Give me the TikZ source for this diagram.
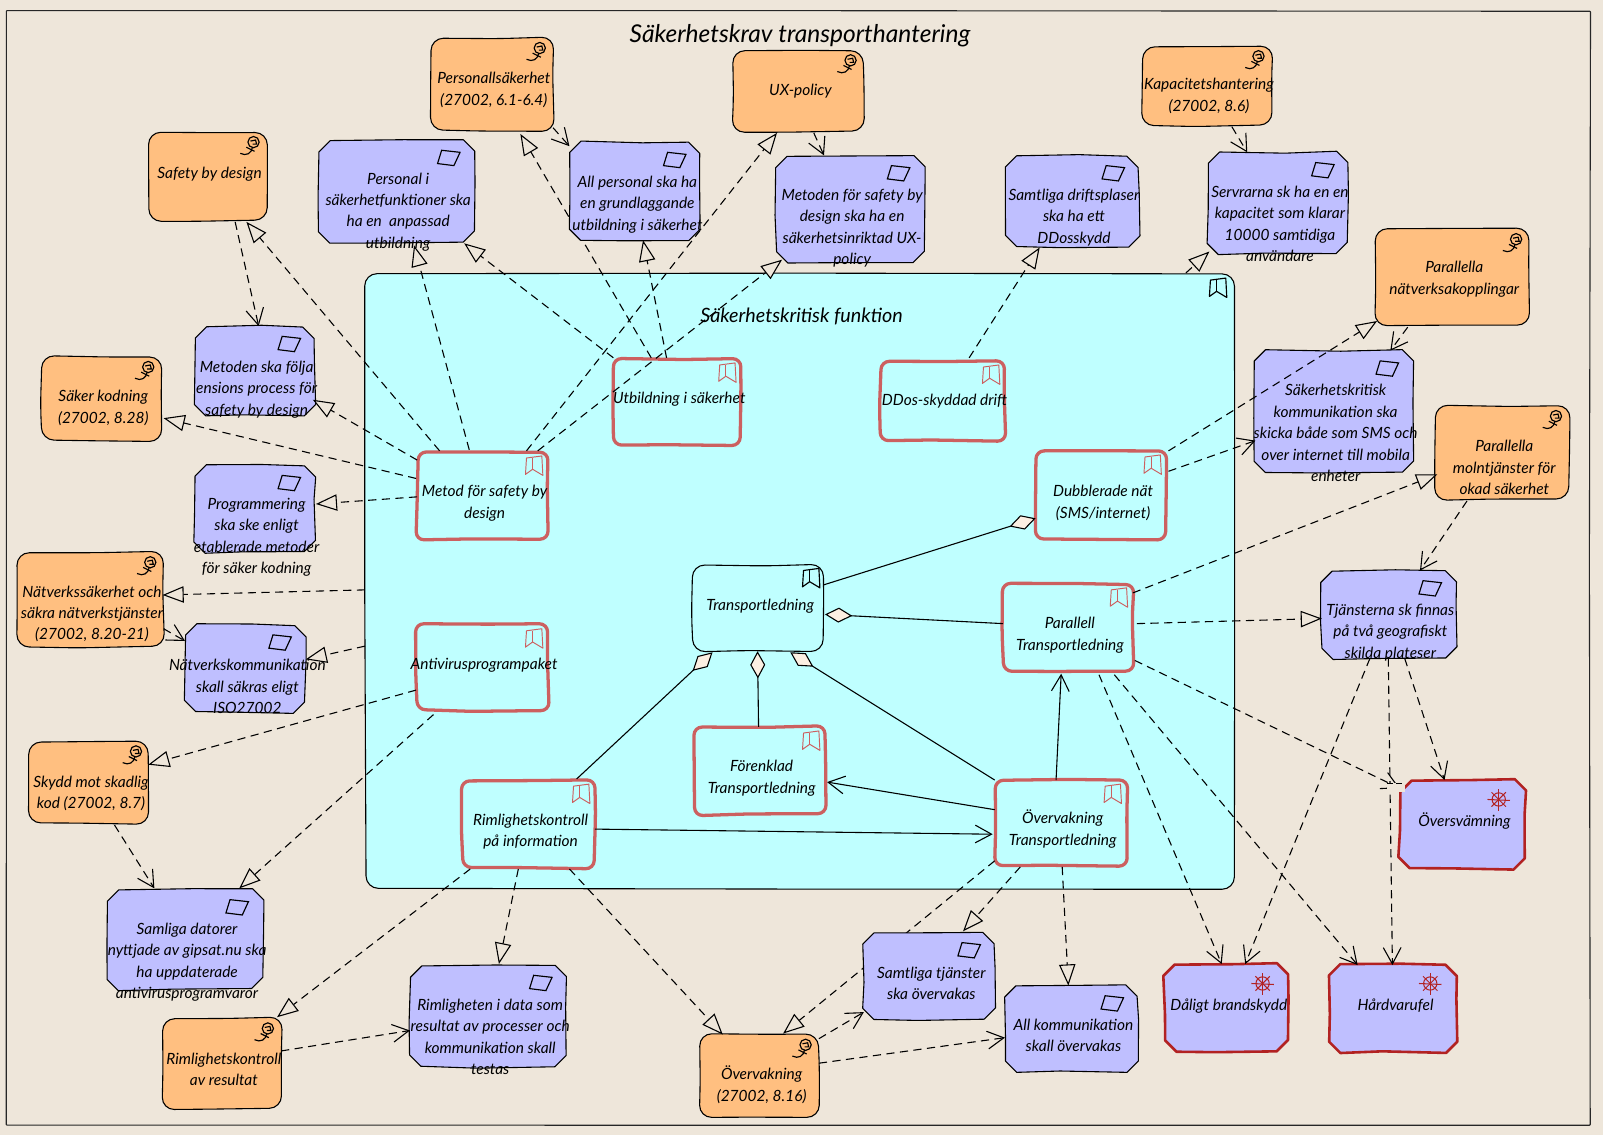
\documentclass[tikz,border=0pt]{standalone}
\usepackage{fontspec}
\setmainfont{Lato}
\usetikzlibrary{arrows.meta}
\definecolor{bgc}{HTML}{EEE6DA}
\definecolor{orangec}{HTML}{FFBF80}
\definecolor{purplec}{HTML}{BFBFFF}
\definecolor{cyanc}{HTML}{BFFFFF}
\definecolor{softred}{HTML}{CC6060}
\definecolor{darkred}{HTML}{B22222}
\definecolor{diamondc}{HTML}{FCEFE2}
\tikzset{
  basebox/.style={inner sep=0pt,outer sep=0pt,text=black,font=\itshape\fontsize{11.35}{15.75}\selectfont},
  framebox/.style={basebox,font=\itshape\fontsize{18}{22}\selectfont},
  groupbox/.style={basebox,font=\itshape\fontsize{14.5}{18}\selectfont},
  frameline/.style={draw=black!85,line width=0.8pt,line join=round},
  groupline/.style={draw=black,fill=cyanc,line width=0.8pt,line join=round},
  orangeline/.style={draw=black,fill=orangec,line width=0.8pt,line join=round},
  reqline/.style={draw=black,fill=purplec,line width=0.8pt,line join=round},
  riskline/.style={draw=darkred,fill=purplec,line width=1.9pt,line join=round},
  funcline/.style={draw=softred,fill=cyanc,line width=2.4pt,line join=round},
  mainline/.style={draw=black,fill=cyanc,line width=0.8pt,line join=round},
  gapbox/.style={inner sep=0pt,outer sep=0pt,fill=bgc,minimum width=12.5pt,minimum height=6.5pt},
  conn/.style={line width=0.8pt,draw=black},
  real/.style={conn,dash pattern=on 6pt off 4pt,-{Triangle[length=15.5pt,width=12pt,fill=bgc,line width=0.8pt]}},
  flow/.style={conn,dash pattern=on 6pt off 4pt,-{Straight Barb[length=12pt,width=13pt,line width=0.8pt]}},
  assoc/.style={conn,-{Straight Barb[length=12pt,width=13pt,line width=0.8pt]}},
  comp/.style={conn,-{Diamond[length=20pt,width=11pt,fill=diamondc,line width=0.8pt]}},
  iconk/.style={line width=0.85pt,draw=black},
  iconr/.style={line width=0.7pt,draw=softred},
  iconw/.style={line width=0.75pt,draw=darkred}
}
\newcommand\JIT{%
  \pgfmathsetmacro\ja{rand*1.2}\pgfmathsetmacro\jb{rand*1.2}%
  \pgfmathsetmacro\jc{rand*1.2}\pgfmathsetmacro\jd{rand*1.2}%
  \pgfmathsetmacro\je{rand*1.2}\pgfmathsetmacro\jf{rand*1.2}%
  \pgfmathsetmacro\jg{rand*1.2}\pgfmathsetmacro\jh{rand*1.2}%
  \pgfmathsetmacro\jm{rand*0.9}\pgfmathsetmacro\jn{rand*0.9}%
  \pgfmathsetmacro\jo{rand*0.9}\pgfmathsetmacro\jp{rand*0.9}%
}
% hand-drawn rounded outline: style, radius, x1 y1 x2 y2
\newcommand\SKR[6]{\JIT
  \draw[#1,rounded corners=#2]
   ({(#3+#5)/2+7},{#4+\jm}) -- ({#5+\ja},{#4+\jb}) -- ({#5+\jn},{(#4+#6)/2-9}) --
   ({#5+\jc},{#6+\jd}) -- ({(#3+#5)/2-11},{#6+\jo}) -- ({#3+\je},{#6+\jf}) --
   ({#3+\jp},{(#4+#6)/2+6}) -- ({#3+\jg},{#4+\jh}) -- cycle;
}
% hand-drawn chamfered outline: style, chamfer, x1 y1 x2 y2
\newcommand\SKC[6]{\JIT
  \draw[#1]
   ({(#3+#5)/2+7},{#4+\jm}) -- ({#5-#2+\ja},{#4+\jb}) -- ({#5+\ja},{#4+#2+\jb}) -- ({#5+\jn},{(#4+#6)/2-9}) --
   ({#5+\jc},{#6-#2+\jd}) -- ({#5-#2+\jc},{#6+\jd}) -- ({(#3+#5)/2-11},{#6+\jo}) -- ({#3+#2+\je},{#6+\jf}) --
   ({#3+\je},{#6-#2+\jf}) -- ({#3+\jp},{(#4+#6)/2+6}) -- ({#3+\jg},{#4+#2+\jh}) -- ({#3+#2+\jg},{#4+\jh}) -- cycle;
}
\newcommand\BX[8]{%
  \pgfmathsetmacro\BXw{(#5-#3)*0.75}%
  \pgfmathsetmacro\BXh{(#6-#4)*0.75}%
  \pgfmathsetmacro\BXcx{(#3+#5)/2}%
  \pgfmathsetmacro\BXcy{(#4+#6)/2}%
  \pgfmathsetmacro\BXr{(\BXcy-#7-6)*0.75}%
  \expandafter\xdef\csname cx#1\endcsname{\BXcx}%
  \expandafter\xdef\csname cy#1\endcsname{\BXcy}%
  \node[#2,minimum width=\BXw pt,minimum height=\BXh pt] (#1) at (\BXcx,\BXcy)
   {\makebox[0pt][c]{\kern3pt\raisebox{\BXr pt}[0pt][0pt]{\begin{tabular}[t]{@{}c@{}}#8\end{tabular}}}};%
}
\newcommand\LK[7]{\draw[#1] ([shift={({#3-\csname cx#2\endcsname},{#4-\csname cy#2\endcsname})}]#2.center) -- ([shift={({#6-\csname cx#5\endcsname},{#7-\csname cy#5\endcsname})}]#5.center);}
\newcommand\ICM[1]{\begin{scope}[shift={(#1.north east)}]
  \draw[iconk] (-13,10) circle (5.5);
  \draw[iconk] (-16,9) -- (-11,8) -- (-10,12) -- (-14,12);
  \draw[iconk] (-14,15) .. controls (-15,21) and (-20,24) .. (-26,21);
  \draw[iconk] (-20,15) -- (-12,19);
\end{scope}}
\newcommand\ICP[1]{\begin{scope}[shift={(#1.north east)}]
  \draw[iconk] (-32,10) -- (-14,12) -- (-20,25) -- (-36,23) -- cycle;
\end{scope}}
\newcommand\ICB[4]{\begin{scope}[shift={([shift={(#3,#4)}]#1.north east)}]
  \draw[#2,line join=round] (-20,5) -- (-5,3) -- (-4,22) -- (-14,16) -- (-21,21) -- cycle;
  \draw[#2] (-14,5) -- (-14,16);
\end{scope}}
\newcommand\ICW[1]{\begin{scope}[shift={(#1.north east)}]
  \draw[iconw] (-26,19) circle (6.5);
  \draw[iconw] (-37,19) -- (-15,20);
  \draw[iconw] (-26,9) -- (-26,30);
  \draw[iconw] (-33,12) -- (-19,26);
  \draw[iconw] (-33,26) -- (-19,12);
\end{scope}}
\newcommand\ORG[7]{\SKR{orangeline}{9pt}{#2}{#3}{#4}{#5}\BX{#1}{basebox}{#2}{#3}{#4}{#5}{#6}{#7}\ICM{#1}}
\newcommand\REQ[7]{\SKC{reqline}{11}{#2}{#3}{#4}{#5}\BX{#1}{basebox}{#2}{#3}{#4}{#5}{#6}{#7}\ICP{#1}}
\newcommand\RSK[7]{\SKC{riskline}{11}{#2}{#3}{#4}{#5}\BX{#1}{basebox}{#2}{#3}{#4}{#5}{#6}{#7}\ICW{#1}}
\newcommand\FUN[7]{\SKR{funcline}{6pt}{#2}{#3}{#4}{#5}\BX{#1}{basebox}{#2}{#3}{#4}{#5}{#6}{#7}\ICB{#1}{iconr}{-1}{1}}
\begin{document}
\begin{tikzpicture}[x=0.75pt,y=-0.75pt]
\pgfmathsetseed{11}
\useasboundingbox (0,0) rectangle (1568,1110);
\fill[bgc] (0,0) rectangle (1568,1110);
\SKR{frameline}{0.5pt}{6}{11}{1555}{1101}
\BX{frame}{framebox}{6}{11}{1555}{1101}{36}{Säkerhetskrav transporthantering}
\SKR{groupline}{9pt}{357}{267}{1207}{869}
\BX{grp}{groupbox}{357}{267}{1207}{869}{309}{Säkerhetskritisk funktion}
\ICB{grp}{iconk}{-3}{2}

\ORG{pers}{421}{37}{541}{128}{76}{Personallsäkerhet\\(27002, 6.1-6.4)}
\ORG{ux}{717}{49}{845}{129}{87}{UX-policy}
\ORG{kap}{1117}{45}{1244}{123}{82}{Kapacitetshantering\\(27002, 8.6)}
\ORG{safe}{145}{129}{261}{216}{169}{Safety by design}
\ORG{pnat}{1345}{224}{1496}{318}{261}{Parallella\\nätverksakopplingar}
\ORG{kod}{40}{349}{158}{431}{387}{Säker kodning\\(27002, 8.28)}
\ORG{moln}{1404}{397}{1535}{489}{436}{Parallella\\molntjänster för\\okad säkerhet}
\ORG{natsak}{16}{540}{160}{633}{578}{Nätverkssäkerhet och\\säkra nätverkstjänster\\(27002, 8.20-21)}
\ORG{skydd}{28}{725}{146}{806}{764}{Skydd mot skadlig\\kod (27002, 8.7)}
\ORG{rimres}{159}{996}{275}{1085}{1035}{Rimlighetskontroll\\av resultat}
\ORG{overv}{685}{1012}{801}{1092}{1050}{Övervakning\\(27002, 8.16)}

\REQ{perskrav}{311}{137}{464}{238}{174}{Personal i\\säkerhetfunktioner ska\\ha en\ \ anpassad\\utbildning}
\REQ{metux}{759}{152}{904}{257}{190}{Metoden för safety by\\design ska ha en\\säkerhetsinriktad UX-\\policy}
\REQ{drift}{983}{152}{1114}{242}{190}{Samtliga driftsplaser\\ska ha ett\\DDosskydd}
\REQ{serv}{1181}{149}{1319}{248}{187}{Servrarna sk ha en en\\kapacitet som klarar\\10000 samtidiga\\användare}
\REQ{metfolj}{190}{319}{308}{406}{358}{Metoden ska följa\\ensions process för\\safety by design}
\REQ{skkom}{1227}{343}{1382}{463}{381}{Säkerhetskritisk\\kommunikation ska\\skicka både som SMS och\\over internet till mobila\\enheter}
\REQ{prog}{190}{455}{308}{540}{492}{Programmering\\ska ske enligt\\etablerade metoder\\för säker kodning}
\REQ{natkom}{181}{611}{299}{697}{650}{Nätverkskommunikation\\skall säkras eligt\\ISO27002}
\REQ{tjan}{1292}{558}{1424}{644}{596}{Tjänsterna sk finnas\\på två geografiskt\\skilda plateser}
\REQ{dator}{105}{870}{257}{968}{908}{Samliga datorer\\nyttjade av gipsat.nu ska\\ha uppdaterade\\antivirusprogramvaror}
\REQ{rimkrav}{401}{944}{554}{1044}{982}{Rimligheten i data som\\resultat av processer och\\kommunikation skall\\testas}
\REQ{allkom}{983}{964}{1113}{1048}{1002}{All kommunikation\\skall övervakas}

\RSK{flod}{1369}{763}{1492}{850}{802}{Översvämning}
\RSK{brand}{1139}{943}{1261}{1029}{982}{Dåligt brandskydd}
\RSK{hard}{1301}{943}{1425}{1029}{982}{Hårdvarufel}

\FUN{utb}{600}{351}{725}{435}{389}{Utbildning i säkerhet}
\FUN{ddos}{861}{353}{983}{431}{391}{DDos-skyddad drift}
\FUN{metod}{408}{442}{536}{528}{480}{Metod för safety by\\design}
\FUN{dubb}{1013}{441}{1141}{527}{480}{Dubblerade nät\\(SMS/internet)}
\FUN{anti}{407}{611}{536}{695}{649}{Antivirusprogrampaket}
\FUN{para}{981}{571}{1108}{656}{609}{Parallell\\Transportledning}
\SKR{mainline}{9pt}{677}{553}{806}{637}
\BX{trans}{basebox}{677}{553}{806}{637}{591}{Transportledning}\ICB{trans}{iconk}{0}{0}
\FUN{rim}{452}{763}{582}{849}{801}{Rimlighetskontroll\\på information}
\FUN{forenk}{679}{711}{807}{797}{749}{Förenklad\\Transportledning}
\FUN{ovt}{973}{763}{1102}{847}{800}{Övervakning\\Transportledning}

% connectors that pass behind later boxes
\LK{real}{ovt}{973}{842}{overv}{766}{1011}
\LK{real}{metod}{515}{441}{ux}{760}{130}
\LK{real}{utb}{637}{350}{pers}{509}{131}

\REQ{samtj}{845}{912}{973}{998}{951}{Samtliga tjänster\\ska övervakas}
\REQ{allpers}{558}{139}{685}{235}{177}{All personal ska ha\\en grundlaggande\\utbildning i säkerhet}

% realisation
\LK{real}{metod}{430}{441}{safe}{241}{217}
\LK{real}{metod}{459}{440}{perskrav}{405}{240}
\LK{real}{utb}{600}{350}{perskrav}{454}{238}
\LK{real}{utb}{652}{350}{allpers}{629}{235}
\LK{real}{metod}{526}{441}{metux}{765}{254}
\LK{real}{ddos}{948}{350}{drift}{1017}{242}
\LK{real}{grp}{1160}{267}{serv}{1183}{246}
\LK{real}{dubb}{1143}{441}{pnat}{1347}{314}
\LK{real}{para}{1108}{580}{moln}{1406}{464}
\LK{real}{para}{1112}{610}{tjan}{1293}{605}
\LK{real}{metod}{408}{450}{metfolj}{306}{391}
\LK{real}{metod}{407}{468}{kod}{160}{409}
\LK{real}{metod}{408}{486}{prog}{309}{493}
\LK{real}{grp}{357}{577}{natsak}{159}{582}
\LK{real}{grp}{357}{632}{natkom}{299}{645}
\LK{real}{anti}{407}{675}{skydd}{145}{748}
\LK{real}{anti}{424}{699}{dator}{234}{869}
\LK{real}{rim}{460}{850}{rimres}{271}{995}
\LK{real}{rim}{507}{850}{rimkrav}{488}{943}
\LK{real}{rim}{557}{850}{overv}{707}{1012}
\LK{real}{ovt}{998}{848}{samtj}{942}{911}
\LK{real}{ovt}{1039}{848}{allkom}{1045}{964}

% influence
\LK{flow}{pers}{541}{125}{allpers}{557}{143}
\LK{flow}{ux}{796}{130}{metux}{806}{152}
\LK{flow}{kap}{1205}{124}{serv}{1220}{149}
\LK{flow}{safe}{230}{217}{metfolj}{253}{319}
\LK{flow}{pnat}{1377}{320}{skkom}{1360}{343}
\LK{flow}{dubb}{1143}{461}{skkom}{1228}{431}
\LK{flow}{moln}{1435}{490}{tjan}{1389}{558}
\LK{flow}{natsak}{160}{615}{natkom}{181}{627}
\LK{flow}{skydd}{112}{807}{dator}{151}{869}
\LK{flow}{rimres}{275}{1028}{rimkrav}{401}{1008}
\LK{flow}{overv}{801}{1016}{samtj}{845}{990}
\LK{flow}{overv}{801}{1040}{allkom}{983}{1015}
\LK{flow}{para}{1075}{660}{brand}{1195}{943}
\LK{flow}{para}{1090}{660}{hard}{1328}{944}
\LK{flow}{tjan}{1340}{644}{brand}{1218}{943}
\LK{flow}{tjan}{1358}{644}{hard}{1362}{944}
\LK{flow}{tjan}{1374}{644}{flod}{1413}{763}
\LK{flow}{para}{1110}{646}{flod}{1369}{771}
\node[gapbox] (gap) at (1365.5,770.5) {};
\draw[conn,dash pattern=on 4pt off 2.5pt] (gap.north west) -- (gap.north east);

% composition
\LK{comp}{trans}{806}{572}{dubb}{1013}{507}
\LK{comp}{para}{981}{610}{trans}{807}{601}
\LK{comp}{rim}{564}{762}{trans}{697}{638}
\LK{comp}{forenk}{742}{711}{trans}{741}{637}
\LK{comp}{ovt}{973}{763}{trans}{773}{638}

% association
\LK{assoc}{rim}{582}{811}{ovt}{971}{816}
\LK{assoc}{ovt}{973}{792}{forenk}{809}{765}
\LK{assoc}{ovt}{1033}{763}{para}{1038}{659}
\end{tikzpicture}
\end{document}
